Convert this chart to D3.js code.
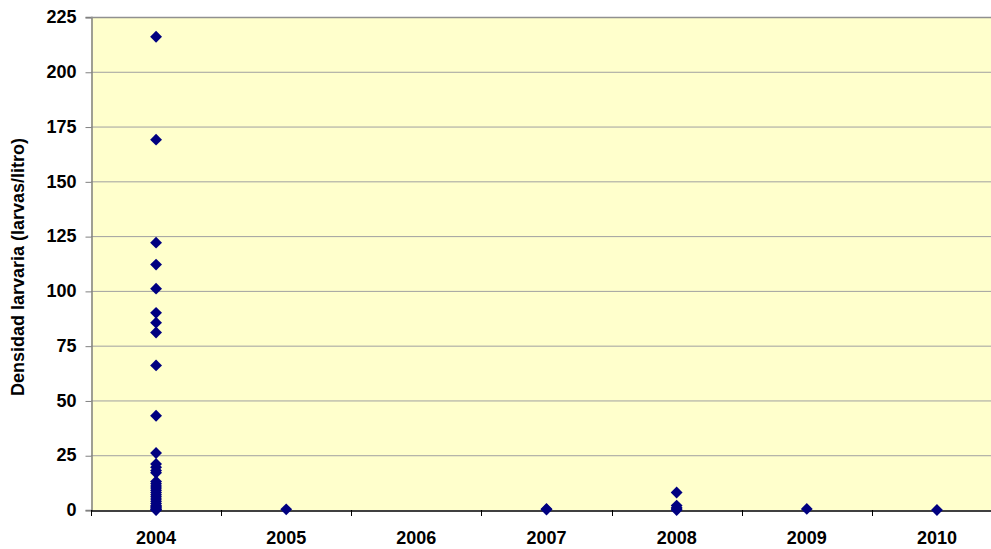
<!DOCTYPE html>
<html><head><meta charset="utf-8">
<script src="https://cdn.jsdelivr.net/npm/d3@7"></script>
<style>body{margin:0;background:#fff}svg{display:block}</style>
</head><body>
<script>
const categories = ["2004","2005","2006","2007","2008","2009","2010"];
const values2004 = [216,169,122,112,101,90,85.5,81,66,43,26,21,19.5,18,17,13,12,11,10,9,8,7,6,5,4,3,2,1.5,1,0.5,0.2,0];
const values2005 = [0.3];
const values2006 = [];
const values2007 = [0.5,0.2];
const values2008 = [8,2,1,0.5,0];
const values2009 = [0.5];
const values2010 = [0];
const yTicks = [0,25,50,75,100,125,150,175,200,225];
const yTitle = "Densidad larvaria (larvas/litro)";

const seriesByYear = [values2004,values2005,values2006,values2007,values2008,values2009,values2010];
const points = [];
categories.forEach((c,i)=>seriesByYear[i].forEach(v=>points.push({c,v})));

const W=991,H=549;
const m={left:91,top:17,right:1002,bottom:510};
const FONT="Liberation Sans, Arial, sans-serif";
const svg=d3.select("body").append("svg").attr("width",W).attr("height",H);

const x=d3.scaleBand().domain(categories).range([m.left,m.right]);
const y=d3.scaleLinear().domain([0,225]).range([m.bottom,m.top]);

svg.append("rect").attr("x",m.left).attr("y",m.top).attr("width",m.right-m.left).attr("height",m.bottom-m.top).attr("fill","#FFFFCC");

// gridlines
svg.append("g").selectAll("line").data(yTicks.filter(t=>t>0)).join("line")
  .attr("x1",m.left).attr("x2",m.right).attr("y1",d=>y(d)+0.5).attr("y2",d=>y(d)+0.5)
  .attr("stroke","#A0A0A0").attr("stroke-width",1);

// y axis
const ya=svg.append("g").attr("transform",`translate(${m.left+0.5},0)`)
  .call(d3.axisLeft(y).tickValues(yTicks).tickSize(6).tickPadding(9));
ya.select(".domain").attr("stroke","#808080").attr("stroke-width",1.5);
ya.selectAll(".tick line").attr("stroke","#808080").attr("transform","translate(0,0.5)");
ya.selectAll("text").attr("font-family",FONT).attr("font-size",18).attr("font-weight","bold").attr("fill","#000");

// x axis
const xa=svg.append("g").attr("transform",`translate(0,${m.bottom+0.5})`)
  .call(d3.axisBottom(x).tickSize(0).tickPadding(21));
xa.select(".domain").attr("stroke","#000").attr("stroke-width",1.5);
xa.selectAll("text").attr("font-family",FONT).attr("font-size",18).attr("font-weight","bold").attr("fill","#000");
const bounds=categories.map(c=>x(c)).concat([m.right]);
svg.append("g").selectAll("line").data(bounds).join("line")
  .attr("x1",d=>Math.round(d)+0.5).attr("x2",d=>Math.round(d)+0.5)
  .attr("y1",m.bottom).attr("y2",m.bottom+6).attr("stroke","#000");

// top border
svg.append("line").attr("x1",m.left).attr("x2",m.right).attr("y1",m.top+0.5).attr("y2",m.top+0.5).attr("stroke","#909090").attr("stroke-width",1.5);

// points (diamonds = rotated squares)
const sq=d3.symbol().type(d3.symbolSquare).size(70);
svg.append("g").selectAll("path").data(points).join("path")
  .attr("d",sq)
  .attr("transform",d=>`translate(${x(d.c)+x.bandwidth()/2},${y(d.v)}) rotate(45)`)
  .attr("fill","#000080");

// y title
svg.append("text").attr("transform",`translate(18,267) rotate(-90)`)
  .attr("text-anchor","middle").attr("dominant-baseline","central").attr("font-family",FONT)
  .attr("font-size",18).attr("font-weight","bold").text(yTitle);
</script>
</body></html>
